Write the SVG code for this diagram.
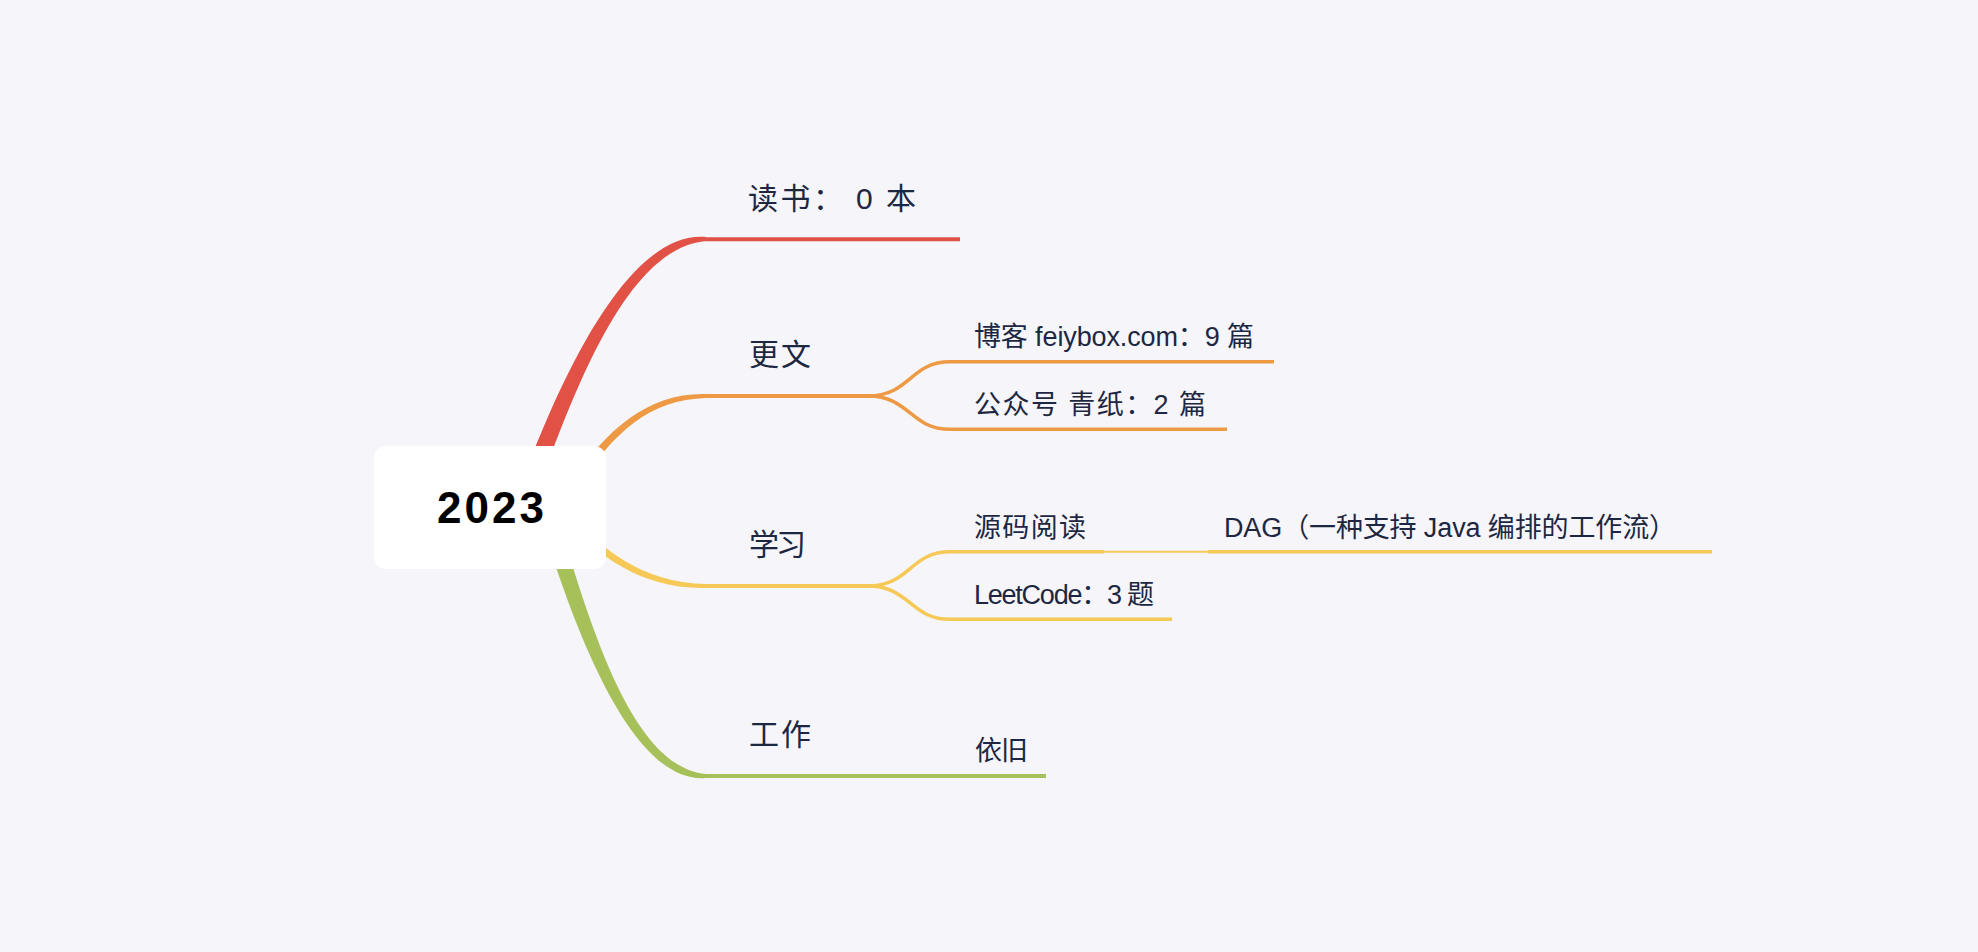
<svg xmlns="http://www.w3.org/2000/svg" width="1978" height="952" viewBox="0 0 1978 952">
<style>
.lbl{font-family:"Liberation Sans","Noto Sans CJK SC",sans-serif;fill:#1E2742;}
.main{font-size:30px;}
.sub{font-size:27px;}
.root{font-family:"Liberation Sans","Noto Sans CJK SC",sans-serif;font-size:44px;font-weight:bold;fill:#000;}
.ln{fill:none;stroke-linecap:butt;}
.w4{stroke-width:4;}
.w3{stroke-width:3.5;}
.w2{stroke-width:2;}
.red{stroke:#E15145;}
.org{stroke:#EE9944;}
.yel{stroke:#F6C957;}
.grn{stroke:#A7C15A;}
</style>
<rect x="0" y="0" width="1978" height="952" fill="#F5F5FA"/>
<g id="connectors">
  <path d="M513.5,505 C556.5,385 626,230 706,237 L706,241 C626,248 573.5,391 530.5,511 Z" fill="#E15145"/>
  <path class="ln w4 red" d="M705,239.3 H960"/>
  <path d="M571.6,482.9 C606.6,427.9 650,392.5 706,394 L706,398 C650,399.5 613.4,432.1 578.4,487.1 Z" fill="#EE9944"/>
  <path class="ln w4 org" d="M705,396 H872"/>
  <path class="ln w3 org" d="M868,396 C910,396 910,361.7 950,361.7 H1274"/>
  <path class="ln w3 org" d="M868,396 C910,396 910,429.3 950,429.3 H1227"/>
  <path d="M577.8,522.2 C602.8,547.2 640,582.5 706,584 L706,588 C640,589.5 597.2,552.8 572.2,527.8 Z" fill="#F6C957"/>
  <path class="ln w4 yel" d="M705,586 H872"/>
  <path class="ln w3 yel" d="M868,586 C910,586 910,551.7 950,551.7 H1104"/>
  <path class="ln w2 yel" d="M1104,551.7 H1208"/>
  <path class="ln w3 yel" d="M1208,551.7 H1712"/>
  <path class="ln w3 yel" d="M868,586 C910,586 910,619.3 950,619.3 H1172"/>
  <path d="M537.9,510.5 C571.9,622.5 630,784.5 706,778 L706,774 C630,767.5 588.1,617.5 554.1,505.5 Z" fill="#A7C15A"/>
  <path class="ln w4 grn" d="M705,776 H1046"/>
</g>
<g id="root">
  <rect x="374" y="446" width="232" height="123" rx="12" ry="12" fill="#FFFFFF"/>
  <text class="root" x="490.5" y="523" text-anchor="middle" textLength="107" lengthAdjust="spacing">2023</text>
</g>
<g id="node-reading"><text class="lbl main" x="748" y="209" textLength="168" lengthAdjust="spacing">读书： 0 本</text></g>
<g id="node-writing"><text class="lbl main" x="749" y="365" textLength="62" lengthAdjust="spacing">更文</text></g>
<g id="node-blog"><text class="lbl sub" x="974" y="346" textLength="280" lengthAdjust="spacing">博客 feiybox.com：9 篇</text></g>
<g id="node-wechat"><text class="lbl sub" x="974" y="414" textLength="232" lengthAdjust="spacing">公众号 青纸：2 篇</text></g>
<g id="node-study"><text class="lbl main" x="749" y="555" textLength="57" lengthAdjust="spacing">学习</text></g>
<g id="node-source"><text class="lbl sub" x="974" y="537" textLength="112" lengthAdjust="spacing">源码阅读</text></g>
<g id="node-dag"><text class="lbl sub" x="1224" y="537" textLength="452" lengthAdjust="spacing">DAG（一种支持 Java 编排的工作流）</text></g>
<g id="node-leetcode"><text class="lbl sub" x="974" y="604" textLength="180" lengthAdjust="spacing">LeetCode：3 题</text></g>
<g id="node-work"><text class="lbl main" x="749" y="745" textLength="62" lengthAdjust="spacing">工作</text></g>
<g id="node-same"><text class="lbl sub" x="975" y="760" textLength="53" lengthAdjust="spacing">依旧</text></g>
</svg>
